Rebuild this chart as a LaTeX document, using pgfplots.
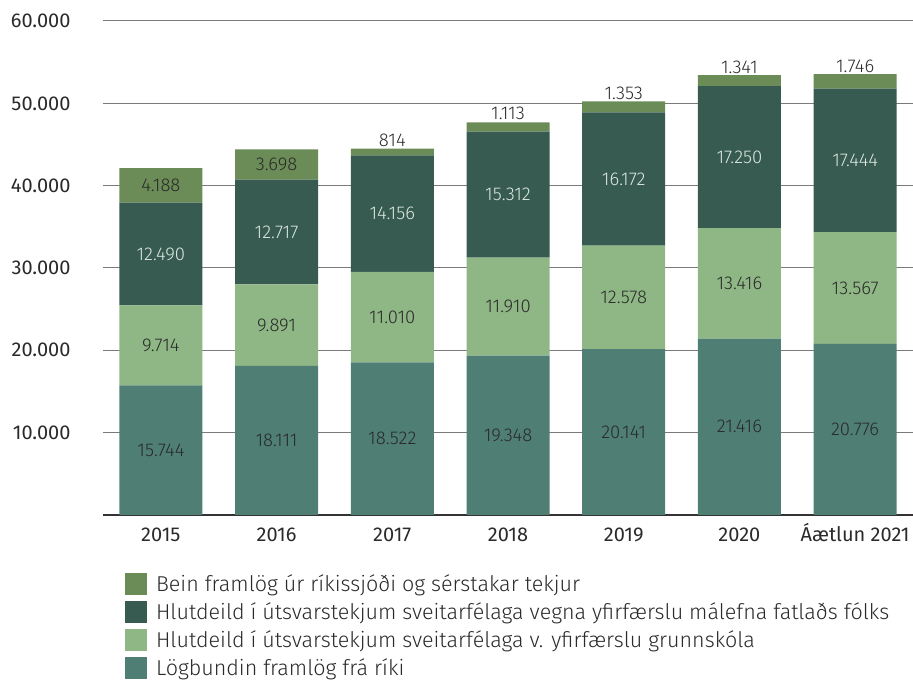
\documentclass[border=0pt]{standalone}
\usepackage{fontspec}
\setmainfont{Fira Sans}
\newfontfamily\light{Fira Sans Light}
\usepackage{pgfplots}
\pgfplotsset{compat=1.18}
\usepackage{pgfplotstable}

\definecolor{cA}{HTML}{4E7E74}
\definecolor{cB}{HTML}{8FB685}
\definecolor{cC}{HTML}{375B51}
\definecolor{cD}{HTML}{6B8C57}
\definecolor{txt}{HTML}{2A2A2A}
\definecolor{txtl}{HTML}{DCE8DF}
\definecolor{gridc}{HTML}{7A7A7A}

\pgfplotstableread{
x a b c d
0 15744 9714 12490 4188
1 18111 9891 12717 3698
2 18522 11010 14156 814
3 19348 11910 15312 1113
4 20141 12578 16172 1353
5 21416 13416 17250 1341
6 20776 13567 17444 1746
}\data

% label positions (segment mid-points, or bar tops for labels set above)
\pgfplotstableread{
x y v
0 7872 15.744
1 9055.5 18.111
2 9261 18.522
3 9674 19.348
4 10070.5 20.141
5 10708 21.416
6 10388 20.776
}\labA
\pgfplotstableread{
x y v
0 20601 9.714
1 23056.5 9.891
2 24027 11.010
3 25303 11.910
4 26430 12.578
5 28124 13.416
6 27559.5 13.567
}\labB
\pgfplotstableread{
x y v
0 31703 12.490
1 34360.5 12.717
2 36610 14.156
3 38914 15.312
4 40805 16.172
5 43457 17.250
6 43065 17.444
}\labC
\pgfplotstableread{
x y v
0 40042 4.188
1 42568 3.698
}\labDin
\pgfplotstableread{
x y v
2 44502 814
3 47784 1.113
4 50244 1.353
5 53423 1.341
6 53533 1.746
}\labDout

\begin{document}
\begin{tikzpicture}
\useasboundingbox (0,0) rectangle (913pt,684pt);
\begin{axis}[
  at={(103pt,169pt)}, anchor=south west,
  scale only axis, width=810pt, height=494pt,
  xmin=-0.5, xmax=6.5, ymin=0, ymax=60000,
  ybar stacked, bar width=83pt,
  axis x line=bottom, axis y line=left,
  y axis line style={draw=none},
  x axis line style={-, draw=black!80, line width=1.3pt},
  major tick length=0pt,
  xtick={0,...,6},
  xticklabels={2015,2016,2017,2018,2019,2020,Áætlun 2021},
  ytick={10000,20000,30000,40000,50000,60000},
  scaled y ticks=false,
  ymajorgrids,
  major grid style={gridc, line width=1pt},
  yticklabel={\pgfmathprintnumber[fixed,precision=0,1000 sep={.},assume math mode=true]{\tick}},
  ticklabel style={font=\fontsize{20}{22}\selectfont, text=txt},
  yticklabel style={xshift=-29pt},
  xticklabel style={text height=19pt, text depth=2pt, yshift=-3.5pt},
  reverse legend,
  legend cell align=left,
  legend style={draw=none, fill=none,
    at={(axis description cs:0.027,-0.117)}, anchor=north west,
    font=\light\fontsize{21.5}{23}\selectfont, text=txt,
    row sep=5.5pt, inner sep=0pt,
    /tikz/every odd column/.append style={column sep=7pt}},
  legend image code/.code={\fill[#1] (0pt,-11pt) rectangle (22pt,11pt);},
]
\addplot[fill=cA, draw=none] table[x=x,y=a]{\data};
\addlegendentry{Lögbundin framlög frá ríki}
\addplot[fill=cB, draw=none] table[x=x,y=b]{\data};
\addlegendentry{Hlutdeild í útsvarstekjum sveitarfélaga v. yfirfærslu grunnskóla}
\addplot[fill=cC, draw=none] table[x=x,y=c]{\data};
\addlegendentry{Hlutdeild í útsvarstekjum sveitarfélaga vegna yfirfærslu málefna fatlaðs fólks}
\addplot[fill=cD, draw=none] table[x=x,y=d]{\data};
\addlegendentry{Bein framlög úr ríkissjóði og sérstakar tekjur}
\end{axis}
\begin{axis}[
  at={(103pt,169pt)}, anchor=south west,
  scale only axis, width=810pt, height=494pt,
  xmin=-0.5, xmax=6.5, ymin=0, ymax=60000,
  hide axis, clip=false,
  nodes near coords, point meta=explicit symbolic,
  every node near coord/.append style={font=\light\fontsize{18.5}{20}\selectfont, anchor=center},
]
\addplot[draw=none, mark=none, every node near coord/.append style={text=txt}] table[x=x,y=y,meta=v]{\labA};
\addplot[draw=none, mark=none, every node near coord/.append style={text=txt}] table[x=x,y=y,meta=v]{\labB};
\addplot[draw=none, mark=none, every node near coord/.append style={text=txtl}] table[x=x,y=y,meta=v]{\labC};
\addplot[draw=none, mark=none, every node near coord/.append style={text=txt}] table[x=x,y=y,meta=v]{\labDin};
\addplot[draw=none, mark=none, every node near coord/.append style={text=txt, anchor=south, inner sep=1.5pt}] table[x=x,y=y,meta=v]{\labDout};
\end{axis}
\end{tikzpicture}
\end{document}
